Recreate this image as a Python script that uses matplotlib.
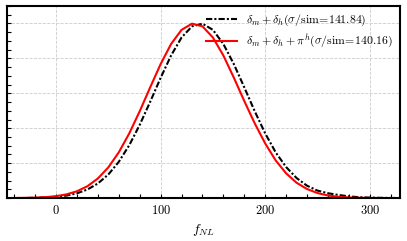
import matplotlib
matplotlib.use("Agg")
import matplotlib.pyplot as plt
from matplotlib.ticker import MultipleLocator, NullFormatter

plt.rcParams['mathtext.fontset'] = 'cm'
plt.rcParams['font.family'] = ['cmr10', 'DejaVu Serif']
plt.rcParams['axes.formatter.use_mathtext'] = True

fnl = [-40, -30, -20, -10, 0, 10, 20, 30, 40, 50, 60, 70, 80, 90, 100, 110, 120, 130,
       140, 150, 160, 170, 180, 190, 200, 210, 220, 230, 240, 250, 260, 270, 280, 290,
       300, 310, 320, 330]

pdf_black = [0.0003, 0.0007, 0.0016, 0.0035, 0.0073, 0.0145, 0.0274, 0.0492, 0.0837, 0.1353,
             0.2078, 0.3030, 0.4195, 0.5515, 0.6887, 0.8167, 0.9197, 0.9836, 0.999, 0.9635,
             0.8825, 0.7676, 0.6341, 0.4974, 0.3706, 0.2622, 0.1780, 0.1150, 0.0710, 0.0430,
             0.0280, 0.0180, 0.0100, 0.0050, 0.0030, 0.0015, 0.0007, 0.0003]

pdf_red = [0.0005, 0.0011, 0.0026, 0.0055, 0.0111, 0.0214, 0.0392, 0.0681, 0.1124, 0.1761,
           0.2622, 0.3706, 0.4974, 0.6341, 0.7676, 0.8825, 0.9635, 0.999, 0.9836, 0.9197,
           0.8167, 0.6900, 0.5560, 0.4280, 0.3130, 0.2160, 0.1420, 0.0880, 0.0520, 0.0290,
           0.0150, 0.0075, 0.0036, 0.0016, 0.0007, 0.0003, 0.0001, 0.00005]

label_black = r'$\delta_m+\delta_h(\sigma/\mathrm{sim}\!=\!141.84)$'
label_red = r'$\delta_m+\delta_h+\pi^h(\sigma/\mathrm{sim}\!=\!140.16)$'

fig = plt.figure(figsize=(4.07, 2.41), dpi=100)
ax = fig.add_axes([0.017, 0.178, 0.966, 0.797])

ax.plot(fnl, pdf_black, color='black', ls=(0, (3, 1, 1, 1)), lw=1.5, label=label_black)
ax.plot(fnl, pdf_red, color='red', ls='-', lw=1.5, label=label_red)

ax.set_xlim(-47, 329)
ax.set_ylim(0, 1.1)
ax.xaxis.set_major_locator(MultipleLocator(100))
ax.xaxis.set_minor_locator(MultipleLocator(20))
ax.yaxis.set_major_locator(MultipleLocator(0.2))
ax.yaxis.set_minor_locator(MultipleLocator(0.05))
ax.yaxis.set_major_formatter(NullFormatter())
ax.tick_params(which='both', direction='in', length=3, width=0.8, labelsize=9)
ax.tick_params(axis='y', which='both', left=True, right=False)
ax.tick_params(axis='x', which='both', top=False, pad=4)
ax.grid(True, which='major', ls='--', color='#cccccc', lw=0.6)
for s in ax.spines.values():
    s.set_linewidth(1.5)

ax.set_xlabel(r'$f_{NL}$', fontsize=10)
ax.legend(loc='upper right', frameon=False, fontsize=8.5, handlelength=2.6,
          borderaxespad=0.2, labelspacing=0.4)

fig.savefig('out.png', dpi=100)
